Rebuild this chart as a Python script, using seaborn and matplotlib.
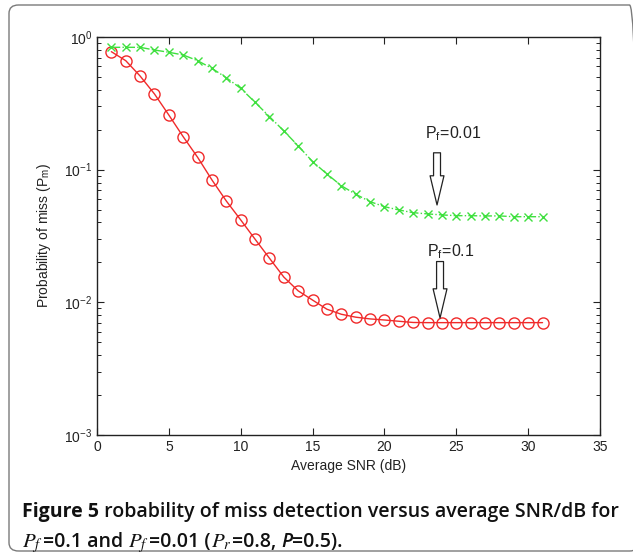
import matplotlib
matplotlib.use("Agg")
import matplotlib.pyplot as plt
from matplotlib.patches import FancyBboxPatch
from matplotlib.ticker import LogLocator, NullFormatter
import numpy as np
import pandas as pd
import seaborn as sns

# %% data
snr_db = list(range(1, 32))
pm_pf_01 = [0.775, 0.663, 0.508, 0.372, 0.258, 0.177, 0.124, 0.0836, 0.058, 0.0418,
            0.0299, 0.0215, 0.0155, 0.0122, 0.0104, 0.00887, 0.00813, 0.00773, 0.0075, 0.00736,
            0.0072, 0.00705, 0.00703, 0.00703, 0.00703, 0.00703, 0.00703, 0.00703, 0.00703, 0.00703,
            0.00703]
pm_pf_001 = [0.836, 0.836, 0.836, 0.798, 0.767, 0.732, 0.663, 0.58, 0.493, 0.41,
             0.322, 0.251, 0.196, 0.151, 0.115, 0.0928, 0.0757, 0.0653, 0.0574, 0.0526,
             0.0497, 0.0474, 0.0464, 0.0456, 0.045, 0.045, 0.0448, 0.0448, 0.0442, 0.0442,
             0.0442]
x_ticks = [0, 5, 10, 15, 20, 25, 30, 35]

df_red = pd.DataFrame({"snr": snr_db, "pm": pm_pf_01})
df_green = pd.DataFrame({"snr": snr_db, "pm": pm_pf_001})

# %% style
sns.set_theme(style="white")
plt.rcParams["font.family"] = ["Liberation Sans", "DejaVu Sans"]
plt.rcParams["mathtext.fontset"] = "stix"

fig = plt.figure(figsize=(6.33, 5.58), dpi=100)
ax = fig.add_axes([97 / 633, 1 - 435 / 558, 503 / 633, 398 / 558])

red = "#f02a2a"
green = "#3fe03f"
sns.lineplot(data=df_red, x="snr", y="pm", ax=ax, color=red, lw=1.0,
             marker="o", markersize=8, markerfacecolor="none", markeredgecolor=red,
             markeredgewidth=1.0)
sns.lineplot(data=df_green, x="snr", y="pm", ax=ax, color=green, lw=1.0, linestyle="-.",
             marker="x", markersize=5.5, markeredgecolor=green, markeredgewidth=1.0)

ax.set_yscale("log")
ax.set_xlim(0, 35)
ax.set_ylim(1e-3, 1)
ax.set_xticks(x_ticks)
ax.set_xticklabels([str(t) for t in x_ticks])
ax.yaxis.set_major_locator(LogLocator(base=10, numticks=10))
ax.yaxis.set_minor_locator(LogLocator(base=10, subs=np.arange(2, 10), numticks=20))
ax.yaxis.set_minor_formatter(NullFormatter())
ax.tick_params(which="both", direction="in", top=True, right=True, bottom=True, left=True,
               colors="#222222", labelsize=10)
ax.tick_params(which="major", length=5, width=0.8)
ax.tick_params(which="minor", length=3, width=0.7)
for s in ax.spines.values():
    s.set_color("#222222")
    s.set_linewidth(1.0)
ax.set_xlabel("Average SNR (dB)", fontsize=10, color="#222222", labelpad=4)
ax.set_ylabel(r"Probability of miss (P$_\mathregular{m}$)", fontsize=10, color="#222222", labelpad=8)

# annotations with hollow arrows
arrow_kw = dict(arrowstyle="simple,head_length=21,head_width=10,tail_width=5",
                fc="white", ec="#222222", lw=0.9, shrinkA=0, shrinkB=0, mutation_scale=1)
ax.annotate("", xy=(23.66, 0.0542), xytext=(23.66, 0.134), arrowprops=arrow_kw)
ax.annotate("", xy=(23.87, 0.00762), xytext=(23.87, 0.0203), arrowprops=arrow_kw)
ax.text(22.8, 0.186, r"P$_\mathregular{f}$=0.01", fontsize=11.5, va="center", ha="left",
        color="#222222")
ax.text(22.96, 0.0241, r"P$_\mathregular{f}$=0.1", fontsize=11.5, va="center", ha="left",
        color="#222222")

# frame round everything
frame = FancyBboxPatch((9 / 633, 7 / 558), 630 / 633, 546 / 558, transform=fig.transFigure,
                       boxstyle="round,pad=0,rounding_size=0.015", fc="none", ec="#7a7a7a",
                       lw=1.0, clip_on=False)
fig.patches.append(frame)

# caption, built from pieces so the weights can differ
cap_font = ["Open Sans", "DejaVu Sans"]
fig.canvas.draw()
renderer = fig.canvas.get_renderer()


def write_line(pieces, x0, y0):
    x = x0
    for txt, kw in pieces:
        opts = dict(va="baseline", ha="left", fontsize=14, color="#111111")
        opts.update(kw)
        t = fig.text(x / 633, 1 - y0 / 558, txt, **opts)
        x += t.get_window_extent(renderer).width


bold = dict(family=cap_font, weight="bold")
semi = dict(family=cap_font, weight="semibold")
math = dict(fontsize=15)
write_line([("Figure 5", bold), (" robability of miss detection versus average SNR/dB for", semi)],
           22, 517)
write_line([(r"$P_f$", math), ("=0.1 and ", semi), (r"$P_f$", math), ("=0.01 (", semi),
            (r"$P_r$", math), ("=0.8, ", semi),
            ("P", dict(family=cap_font, weight="semibold", style="italic")),
            ("=0.5).", semi)], 22, 547)

fig.savefig("out.png", dpi=100)
